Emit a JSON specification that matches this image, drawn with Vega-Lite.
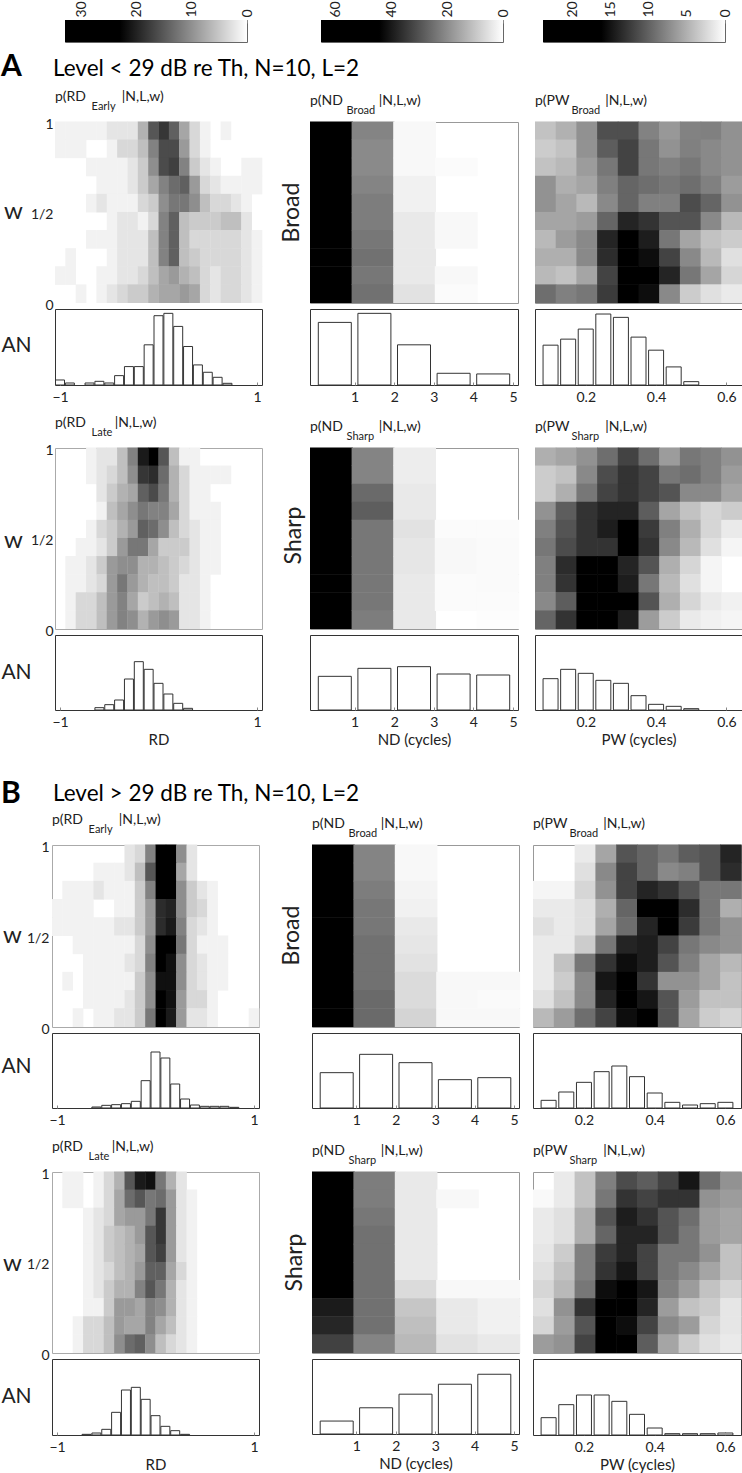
{"$schema":"https://vega.github.io/schema/vega-lite/v6.json","padding":0,"background":"white","spacing":6,"resolve":{"scale":{"color":"independent"}},
"config":{"font":"Lato","view":{"stroke":null},"title":{"anchor":"start","frame":"group","fontSize":14,"fontWeight":"normal","subtitleFontSize":11,"subtitlePadding":-3,"offset":5,"color":"#222","subtitleColor":"#222"},"axis":{"labelFont":"Lato","titleFont":"Lato","labelColor":"#222","titleColor":"#222","grid":false,"labelFontSize":14,"titleFontWeight":"normal","titleFontSize":15}},
"vconcat":[
{"spacing":0,"bounds":"flush","hconcat":[
{"width":64,"height":1,"mark":"text","data":{"values":[]}},
{"width":182,"height":22,"view":{"stroke":"#666"},"data":{"values":[{"lo":0,"hi":33}]},"mark":{"type":"rect","color":{"gradient":"linear","x1":0,"x2":1,"y1":0,"y2":0,"stops":[{"offset":0,"color":"#000"},{"offset":0.3,"color":"#000"},{"offset":1,"color":"#fff"}]}},"encoding":{"x":{"field":"lo","type":"quantitative","scale":{"domain":[0,33],"reverse":true},"axis":{"orient":"top","title":null,"values":[0,10,20,30],"labelAngle":270,"domain":false,"tickSize":-3,"labelPadding":6}},"x2":{"field":"hi"}}},
{"width":74,"height":1,"mark":"text","data":{"values":[]}},
{"width":182,"height":22,"view":{"stroke":"#666"},"data":{"values":[{"lo":0,"hi":65}]},"mark":{"type":"rect","color":{"gradient":"linear","x1":0,"x2":1,"y1":0,"y2":0,"stops":[{"offset":0,"color":"#000"},{"offset":0.32,"color":"#000"},{"offset":1,"color":"#fff"}]}},"encoding":{"x":{"field":"lo","type":"quantitative","scale":{"domain":[0,65],"reverse":true},"axis":{"orient":"top","title":null,"values":[0,20,40,60],"labelAngle":270,"domain":false,"tickSize":-3,"labelPadding":6}},"x2":{"field":"hi"}}},
{"width":40,"height":1,"mark":"text","data":{"values":[]}},
{"width":182,"height":22,"view":{"stroke":"#666"},"data":{"values":[{"lo":0,"hi":23.8}]},"mark":{"type":"rect","color":{"gradient":"linear","x1":0,"x2":1,"y1":0,"y2":0,"stops":[{"offset":0,"color":"#000"},{"offset":0.32,"color":"#000"},{"offset":1,"color":"#fff"}]}},"encoding":{"x":{"field":"lo","type":"quantitative","scale":{"domain":[0,23.8],"reverse":true},"axis":{"orient":"top","title":null,"values":[0,5,10,15,20],"labelAngle":270,"domain":false,"tickSize":-3,"labelPadding":6}},"x2":{"field":"hi"}}}
]},
{"columns":6,"align":"none","bounds":"flush","spacing":{"row":6,"column":0},"resolve":{"scale":{"color":"independent"}},"concat":[
{"width":54,"height":67,"title":{"text":"A","fontSize":30,"fontWeight":"bold","offset":-33,"color":"#000"},"mark":"text","data":{"values":[]}},
{"width":207,"height":67,"title":{"text":"Level < 29 dB re Th, N=10, L=2","fontSize":22.5,"offset":-31,"dx":-2,"color":"#000"},"mark":"text","data":{"values":[]}},
{"width":48,"height":1,"mark":"text","data":{"values":[]}},{"width":208,"height":67,"mark":"text","data":{"values":[]}},{"width":17,"height":1,"mark":"text","data":{"values":[]}},{"width":207,"height":67,"mark":"text","data":{"values":[]}},
{"width":54,"height":181,"mark":"text","data":{"values":[]}},
{"width":207,"height":181,"title":{"text":"p(RD\u00a0\u00a0\u00a0\u00a0\u00a0\u00a0\u00a0\u00a0\u00a0\u00a0|N,L,w)","subtitle":"\u200b\u00a0\u00a0\u00a0\u00a0\u00a0\u00a0\u00a0\u00a0\u00a0\u00a0\u00a0\u00a0\u00a0Early"},"data":{"values":[{"x":0,"y":9,"v":1},{"x":1,"y":9,"v":1},{"x":2,"y":9,"v":1},{"x":3,"y":9,"v":1},{"x":4,"y":9,"v":1},{"x":5,"y":9,"v":2},{"x":6,"y":9,"v":2},{"x":7,"y":9,"v":2},{"x":8,"y":9,"v":6},{"x":9,"y":9,"v":14},{"x":10,"y":9,"v":17},{"x":11,"y":9,"v":13},{"x":12,"y":9,"v":7},{"x":13,"y":9,"v":3},{"x":14,"y":9,"v":1},{"x":16,"y":9,"v":1},
{"x":0,"y":8,"v":1},{"x":1,"y":8,"v":1},{"x":2,"y":8,"v":1},{"x":5,"y":8,"v":1},{"x":6,"y":8,"v":3},{"x":7,"y":8,"v":3},{"x":8,"y":8,"v":5},{"x":9,"y":8,"v":10},{"x":10,"y":8,"v":15},{"x":11,"y":8,"v":15},{"x":12,"y":8,"v":8},{"x":13,"y":8,"v":3},{"x":14,"y":8,"v":1},
{"x":3,"y":7,"v":1},{"x":4,"y":7,"v":1},{"x":5,"y":7,"v":1},{"x":6,"y":7,"v":1},{"x":7,"y":7,"v":2},{"x":8,"y":7,"v":4},{"x":9,"y":7,"v":9},{"x":10,"y":7,"v":15},{"x":11,"y":7,"v":16},{"x":12,"y":7,"v":10},{"x":13,"y":7,"v":4},{"x":14,"y":7,"v":2},{"x":15,"y":7,"v":1},{"x":18,"y":7,"v":1},{"x":19,"y":7,"v":1},
{"x":4,"y":6,"v":1},{"x":5,"y":6,"v":1},{"x":6,"y":6,"v":1},{"x":7,"y":6,"v":2},{"x":8,"y":6,"v":4},{"x":9,"y":6,"v":7},{"x":10,"y":6,"v":10},{"x":11,"y":6,"v":12},{"x":12,"y":6,"v":13},{"x":13,"y":6,"v":8},{"x":14,"y":6,"v":3},{"x":15,"y":6,"v":2},{"x":16,"y":6,"v":1},{"x":17,"y":6,"v":1},{"x":18,"y":6,"v":1},{"x":19,"y":6,"v":1},
{"x":3,"y":5,"v":1},{"x":4,"y":5,"v":2},{"x":5,"y":5,"v":1},{"x":6,"y":5,"v":1},{"x":7,"y":5,"v":1},{"x":8,"y":5,"v":3},{"x":9,"y":5,"v":4},{"x":10,"y":5,"v":9},{"x":11,"y":5,"v":11},{"x":12,"y":5,"v":11},{"x":13,"y":5,"v":9},{"x":14,"y":5,"v":5},{"x":15,"y":5,"v":3},{"x":16,"y":5,"v":3},{"x":17,"y":5,"v":2},{"x":18,"y":5,"v":1},
{"x":5,"y":4,"v":1},{"x":6,"y":4,"v":2},{"x":7,"y":4,"v":2},{"x":8,"y":4,"v":1},{"x":9,"y":4,"v":3},{"x":10,"y":4,"v":10},{"x":11,"y":4,"v":13},{"x":12,"y":4,"v":5},{"x":13,"y":4,"v":4},{"x":14,"y":4,"v":4},{"x":15,"y":4,"v":4},{"x":16,"y":4,"v":5},{"x":17,"y":4,"v":5},{"x":18,"y":4,"v":2},
{"x":3,"y":3,"v":1},{"x":4,"y":3,"v":1},{"x":5,"y":3,"v":1},{"x":6,"y":3,"v":2},{"x":7,"y":3,"v":2},{"x":8,"y":3,"v":2},{"x":9,"y":3,"v":5},{"x":10,"y":3,"v":10},{"x":11,"y":3,"v":13},{"x":12,"y":3,"v":5},{"x":13,"y":3,"v":3},{"x":14,"y":3,"v":3},{"x":15,"y":3,"v":3},{"x":16,"y":3,"v":3},{"x":17,"y":3,"v":3},{"x":18,"y":3,"v":2},{"x":19,"y":3,"v":1},
{"x":1,"y":2,"v":1},{"x":5,"y":2,"v":1},{"x":6,"y":2,"v":2},{"x":7,"y":2,"v":2},{"x":8,"y":2,"v":2},{"x":9,"y":2,"v":5},{"x":10,"y":2,"v":10},{"x":11,"y":2,"v":13},{"x":12,"y":2,"v":5},{"x":13,"y":2,"v":4},{"x":14,"y":2,"v":3},{"x":15,"y":2,"v":3},{"x":16,"y":2,"v":3},{"x":17,"y":2,"v":3},{"x":18,"y":2,"v":2},{"x":19,"y":2,"v":1},
{"x":0,"y":1,"v":1},{"x":1,"y":1,"v":1},{"x":4,"y":1,"v":1},{"x":5,"y":1,"v":1},{"x":6,"y":1,"v":2},{"x":7,"y":1,"v":2},{"x":8,"y":1,"v":3},{"x":9,"y":1,"v":5},{"x":10,"y":1,"v":7},{"x":11,"y":1,"v":8},{"x":12,"y":1,"v":6},{"x":13,"y":1,"v":5},{"x":14,"y":1,"v":3},{"x":15,"y":1,"v":2},{"x":16,"y":1,"v":3},{"x":17,"y":1,"v":3},{"x":18,"y":1,"v":2},{"x":19,"y":1,"v":1},
{"x":2,"y":0,"v":1},{"x":4,"y":0,"v":1},{"x":5,"y":0,"v":2},{"x":6,"y":0,"v":3},{"x":7,"y":0,"v":4},{"x":8,"y":0,"v":4},{"x":9,"y":0,"v":6},{"x":10,"y":0,"v":7},{"x":11,"y":0,"v":7},{"x":12,"y":0,"v":8},{"x":13,"y":0,"v":7},{"x":14,"y":0,"v":3},{"x":15,"y":0,"v":2},{"x":16,"y":0,"v":3},{"x":17,"y":0,"v":3},{"x":18,"y":0,"v":2},{"x":19,"y":0,"v":1}]},"transform":[{"calculate":"datum.x+1.03","as":"x2"},{"calculate":"datum.y+1.03","as":"y2"}],"mark":"rect","encoding":{"x":{"field":"x","type":"quantitative","scale":{"domain":[0,20]},"axis":null},"x2":{"field":"x2"},"y":{"field":"y","type":"quantitative","scale":{"domain":[0,10]},"axis":{"values":[0,5,10],"labelExpr":"datum.value==0?'0':datum.value==5?'1/2':'1'","labelOffset":2,"labelPadding":2,"ticks":false,"domain":false,"title":"w","titleAngle":0,"titleFontSize":24,"titleX":-42,"titleY":101}},"y2":{"field":"y2"},"color":{"field":"v","type":"quantitative","scale":{"domain":[0,22],"range":["#fff","#000"],"clamp":true},"legend":null}}},
{"width":48,"height":1,"mark":"text","data":{"values":[]}},
{"width":208,"height":181,"view":{"stroke":"#999"},"title":{"text":"p(ND\u00a0\u00a0\u00a0\u00a0\u00a0\u00a0\u00a0\u00a0\u00a0\u00a0|N,L,w)","subtitle":"\u200b\u00a0\u00a0\u00a0\u00a0\u00a0\u00a0\u00a0\u00a0\u00a0\u00a0\u00a0\u00a0\u00a0Broad"},"data":{"values":[{"x":0,"y":9,"v":40},{"x":0,"y":8,"v":40},{"x":0,"y":7,"v":40},{"x":0,"y":6,"v":40},{"x":0,"y":5,"v":40},{"x":0,"y":4,"v":40},{"x":0,"y":3,"v":40},{"x":0,"y":2,"v":40},{"x":0,"y":1,"v":40},{"x":0,"y":0,"v":40},{"x":1,"y":9,"v":18},{"x":1,"y":8,"v":17},{"x":1,"y":7,"v":17},{"x":1,"y":6,"v":18},{"x":1,"y":5,"v":19},{"x":1,"y":4,"v":19},{"x":1,"y":3,"v":20},{"x":1,"y":2,"v":21},{"x":1,"y":1,"v":20},{"x":1,"y":0,"v":21},{"x":2,"y":9,"v":1},{"x":2,"y":8,"v":1},{"x":2,"y":7,"v":1},{"x":2,"y":6,"v":2},{"x":2,"y":5,"v":2},{"x":2,"y":4,"v":3},{"x":2,"y":3,"v":3},{"x":2,"y":2,"v":3},{"x":2,"y":1,"v":3},{"x":2,"y":0,"v":4},{"x":3,"y":7,"v":0.5},{"x":3,"y":4,"v":1},{"x":3,"y":3,"v":1},{"x":3,"y":1,"v":1},{"x":3,"y":0,"v":0.5}]},"transform":[{"calculate":"datum.x+1.03","as":"x2"},{"calculate":"datum.y+1.03","as":"y2"}],"mark":"rect","encoding":{"x":{"field":"x","type":"quantitative","scale":{"domain":[0,5]},"axis":null},"x2":{"field":"x2"},"y":{"field":"y","type":"quantitative","scale":{"domain":[0,10]},"axis":{"title":"Broad","labels":false,"ticks":false,"domain":false,"titleAngle":270,"titleX":-19,"titleY":90,"titleFontSize":23,"titleBaseline":"middle"}},"y2":{"field":"y2"},"color":{"field":"v","type":"quantitative","scale":{"domain":[0,40],"range":["#fff","#000"],"clamp":true},"legend":null}}},
{"width":17,"height":1,"mark":"text","data":{"values":[]}},
{"width":207,"height":181,"view":{"stroke":"#999"},"title":{"text":"p(PW\u00a0\u00a0\u00a0\u00a0\u00a0\u00a0\u00a0\u00a0\u00a0\u00a0|N,L,w)","subtitle":"\u200b\u00a0\u00a0\u00a0\u00a0\u00a0\u00a0\u00a0\u00a0\u00a0\u00a0\u00a0\u00a0\u00a0Broad"},"data":{"values":[{"x":0,"y":9,"v":3},{"x":1,"y":9,"v":3.9},{"x":2,"y":9,"v":5.6},{"x":3,"y":9,"v":9.3},{"x":4,"y":9,"v":9.3},{"x":5,"y":9,"v":6.4},{"x":6,"y":9,"v":5.2},{"x":7,"y":9,"v":6.4},{"x":8,"y":9,"v":6.5},{"x":9,"y":9,"v":5.6},
{"x":0,"y":8,"v":2.5},{"x":1,"y":8,"v":3},{"x":2,"y":8,"v":5.5},{"x":3,"y":8,"v":8.5},{"x":4,"y":8,"v":10},{"x":5,"y":8,"v":7},{"x":6,"y":8,"v":5.5},{"x":7,"y":8,"v":6.5},{"x":8,"y":8,"v":6},{"x":9,"y":8,"v":5.5},
{"x":0,"y":7,"v":3},{"x":1,"y":7,"v":3.5},{"x":2,"y":7,"v":5},{"x":3,"y":7,"v":7},{"x":4,"y":7,"v":10},{"x":5,"y":7,"v":7},{"x":6,"y":7,"v":6.5},{"x":7,"y":7,"v":7},{"x":8,"y":7,"v":6},{"x":9,"y":7,"v":5.5},
{"x":0,"y":6,"v":5.5},{"x":1,"y":6,"v":4},{"x":2,"y":6,"v":4.5},{"x":3,"y":6,"v":6.5},{"x":4,"y":6,"v":8},{"x":5,"y":6,"v":7.5},{"x":6,"y":6,"v":7},{"x":7,"y":6,"v":7.5},{"x":8,"y":6,"v":6.5},{"x":9,"y":6,"v":5},
{"x":0,"y":5,"v":5.5},{"x":1,"y":5,"v":4.5},{"x":2,"y":5,"v":3.5},{"x":3,"y":5,"v":6},{"x":4,"y":5,"v":8},{"x":5,"y":5,"v":6.5},{"x":6,"y":5,"v":6.5},{"x":7,"y":5,"v":9.5},{"x":8,"y":5,"v":8},{"x":9,"y":5,"v":5.5},
{"x":0,"y":4,"v":4.5},{"x":1,"y":4,"v":4.5},{"x":2,"y":4,"v":5},{"x":3,"y":4,"v":8},{"x":4,"y":4,"v":12},{"x":5,"y":4,"v":11},{"x":6,"y":4,"v":9},{"x":7,"y":4,"v":9},{"x":8,"y":4,"v":6},{"x":9,"y":4,"v":3.5},
{"x":0,"y":3,"v":3.5},{"x":1,"y":3,"v":5},{"x":2,"y":3,"v":6},{"x":3,"y":3,"v":12},{"x":4,"y":3,"v":14},{"x":5,"y":3,"v":12.5},{"x":6,"y":3,"v":7},{"x":7,"y":3,"v":4.5},{"x":8,"y":3,"v":3},{"x":9,"y":3,"v":2.5},
{"x":0,"y":2,"v":4},{"x":1,"y":2,"v":4},{"x":2,"y":2,"v":6},{"x":3,"y":2,"v":11.5},{"x":4,"y":2,"v":14},{"x":5,"y":2,"v":13.5},{"x":6,"y":2,"v":10},{"x":7,"y":2,"v":6},{"x":8,"y":2,"v":3.5},{"x":9,"y":2,"v":1.5},
{"x":0,"y":1,"v":3.5},{"x":1,"y":1,"v":3},{"x":2,"y":1,"v":4.5},{"x":3,"y":1,"v":10},{"x":4,"y":1,"v":14},{"x":5,"y":1,"v":14},{"x":6,"y":1,"v":12},{"x":7,"y":1,"v":7},{"x":8,"y":1,"v":4.5},{"x":9,"y":1,"v":2},
{"x":0,"y":0,"v":7.5},{"x":1,"y":0,"v":6.5},{"x":2,"y":0,"v":7},{"x":3,"y":0,"v":10.5},{"x":4,"y":0,"v":14},{"x":5,"y":0,"v":13.5},{"x":6,"y":0,"v":6},{"x":7,"y":0,"v":2.5},{"x":8,"y":0,"v":1.5},{"x":9,"y":0,"v":1}]},"transform":[{"calculate":"datum.x+1.03","as":"x2"},{"calculate":"datum.y+1.03","as":"y2"}],"mark":"rect","encoding":{"x":{"field":"x","type":"quantitative","scale":{"domain":[0,10]},"axis":null},"x2":{"field":"x2"},"y":{"field":"y","type":"quantitative","scale":{"domain":[0,10]},"axis":null},"y2":{"field":"y2"},"color":{"field":"v","type":"quantitative","scale":{"domain":[0,14],"range":["#fff","#000"],"clamp":true},"legend":null}}},
{"width":54,"height":76,"mark":"text","data":{"values":[]}},
{"width":207,"height":76,"view":{"stroke":"#333"},"data":{"values":[{"c":-1,"n":15},{"c":-0.9,"n":6},{"c":-0.7,"n":6},{"c":-0.6,"n":11},{"c":-0.5,"n":6},{"c":-0.4,"n":28},{"c":-0.3,"n":55},{"c":-0.2,"n":55},{"c":-0.1,"n":120},{"c":0,"n":207},{"c":0.1,"n":214},{"c":0.2,"n":175},{"c":0.3,"n":115},{"c":0.4,"n":60},{"c":0.5,"n":38},{"c":0.6,"n":23},{"c":0.7,"n":5}]},"mark":{"type":"bar","size":9,"fill":"#fff","stroke":"#333","clip":true},"encoding":{"x":{"field":"c","type":"quantitative","scale":{"domain":[-1,1]},"axis":{"values":[-1,0,1],"format":"d","title":null,"domain":false,"tickSize":-3,"labelPadding":8,"labelFlush":false}},"y":{"field":"n","type":"quantitative","scale":{"domain":[0,227]},"axis":{"title":"AN","labels":false,"ticks":false,"domain":false,"titleAngle":0,"titleFontSize":21,"titleX":-39,"titleY":46}}}},
{"width":48,"height":1,"mark":"text","data":{"values":[]}},
{"width":208,"height":76,"view":{"stroke":"#333"},"data":{"values":[{"c":0.5,"n":187},{"c":1.5,"n":214},{"c":2.5,"n":120},{"c":3.5,"n":35},{"c":4.5,"n":33}]},"mark":{"type":"bar","size":33,"fill":"#fff","stroke":"#333"},"encoding":{"x":{"field":"c","type":"quantitative","scale":{"domain":[0,5]},"axis":{"values":[1,2,3,4,5],"format":"d","title":null,"domain":false,"tickSize":-3,"labelPadding":8,"labelFlush":false}},"y":{"field":"n","type":"quantitative","scale":{"domain":[0,227]},"axis":null}}},
{"width":17,"height":1,"mark":"text","data":{"values":[]}},
{"width":207,"height":76,"view":{"stroke":"#333"},"data":{"values":[{"c":0.1,"n":119},{"c":0.15,"n":137},{"c":0.2,"n":167},{"c":0.25,"n":212},{"c":0.3,"n":202},{"c":0.35,"n":143},{"c":0.4,"n":104},{"c":0.45,"n":54},{"c":0.5,"n":10}]},"mark":{"type":"bar","size":15,"fill":"#fff","stroke":"#333"},"encoding":{"x":{"field":"c","type":"quantitative","scale":{"domain":[0.07,0.63]},"axis":{"values":[0.2,0.4,0.6],"format":".1f","title":null,"domain":false,"tickSize":-3,"labelPadding":8,"labelFlush":false}},"y":{"field":"n","type":"quantitative","scale":{"domain":[0,227]},"axis":null}}},
{"width":54,"height":51,"mark":"text","data":{"values":[]}},{"width":207,"height":51,"mark":"text","data":{"values":[]}},{"width":48,"height":1,"mark":"text","data":{"values":[]}},{"width":208,"height":51,"mark":"text","data":{"values":[]}},{"width":17,"height":1,"mark":"text","data":{"values":[]}},{"width":207,"height":51,"mark":"text","data":{"values":[]}},
{"width":54,"height":181,"mark":"text","data":{"values":[]}},
{"width":207,"height":181,"view":{"stroke":"#aaa"},"title":{"text":"p(RD\u00a0\u00a0\u00a0\u00a0\u00a0\u00a0\u00a0\u00a0|N,L,w)","subtitle":"\u200b\u00a0\u00a0\u00a0\u00a0\u00a0\u00a0\u00a0\u00a0\u00a0\u00a0\u00a0\u00a0\u00a0Late"},"data":{"values":[{"x":3,"y":9,"v":1},{"x":4,"y":9,"v":2},{"x":5,"y":9,"v":2},{"x":6,"y":9,"v":5},{"x":7,"y":9,"v":10},{"x":8,"y":9,"v":20},{"x":9,"y":9,"v":22},{"x":10,"y":9,"v":14},{"x":11,"y":9,"v":5},{"x":12,"y":9,"v":1},{"x":13,"y":9,"v":1},
{"x":3,"y":8,"v":1},{"x":4,"y":8,"v":2},{"x":5,"y":8,"v":3},{"x":6,"y":8,"v":5},{"x":7,"y":8,"v":9},{"x":8,"y":8,"v":17},{"x":9,"y":8,"v":18},{"x":10,"y":8,"v":12},{"x":11,"y":8,"v":6},{"x":12,"y":8,"v":3},{"x":13,"y":8,"v":1},{"x":14,"y":8,"v":1},{"x":15,"y":8,"v":1},{"x":16,"y":8,"v":1},
{"x":4,"y":7,"v":2},{"x":5,"y":7,"v":4},{"x":6,"y":7,"v":6},{"x":7,"y":7,"v":7},{"x":8,"y":7,"v":13},{"x":9,"y":7,"v":15},{"x":10,"y":7,"v":11},{"x":11,"y":7,"v":6},{"x":12,"y":7,"v":3},{"x":13,"y":7,"v":1},{"x":14,"y":7,"v":1},
{"x":4,"y":6,"v":1},{"x":5,"y":6,"v":5},{"x":6,"y":6,"v":7},{"x":7,"y":6,"v":9},{"x":8,"y":6,"v":11},{"x":9,"y":6,"v":10},{"x":10,"y":6,"v":10},{"x":11,"y":6,"v":7},{"x":12,"y":6,"v":3},{"x":13,"y":6,"v":1},{"x":14,"y":6,"v":1},{"x":15,"y":6,"v":1},
{"x":3,"y":5,"v":1},{"x":4,"y":5,"v":3},{"x":5,"y":5,"v":4},{"x":6,"y":5,"v":6},{"x":7,"y":5,"v":8},{"x":8,"y":5,"v":13},{"x":9,"y":5,"v":12},{"x":10,"y":5,"v":9},{"x":11,"y":5,"v":5},{"x":12,"y":5,"v":3},{"x":13,"y":5,"v":2},{"x":14,"y":5,"v":1},{"x":15,"y":5,"v":1},
{"x":2,"y":4,"v":1},{"x":3,"y":4,"v":1},{"x":4,"y":4,"v":2},{"x":5,"y":4,"v":4},{"x":6,"y":4,"v":8},{"x":7,"y":4,"v":11},{"x":8,"y":4,"v":11},{"x":9,"y":4,"v":7},{"x":10,"y":4,"v":4},{"x":11,"y":4,"v":4},{"x":12,"y":4,"v":4},{"x":13,"y":4,"v":2},{"x":14,"y":4,"v":1},{"x":15,"y":4,"v":1},
{"x":1,"y":3,"v":1},{"x":2,"y":3,"v":1},{"x":3,"y":3,"v":2},{"x":4,"y":3,"v":4},{"x":5,"y":3,"v":8},{"x":6,"y":3,"v":9},{"x":7,"y":3,"v":9},{"x":8,"y":3,"v":6},{"x":9,"y":3,"v":6},{"x":10,"y":3,"v":5},{"x":11,"y":3,"v":4},{"x":12,"y":3,"v":3},{"x":13,"y":3,"v":2},{"x":14,"y":3,"v":1},{"x":15,"y":3,"v":1},
{"x":1,"y":2,"v":1},{"x":2,"y":2,"v":1},{"x":3,"y":2,"v":2},{"x":4,"y":2,"v":3},{"x":5,"y":2,"v":8},{"x":6,"y":2,"v":11},{"x":7,"y":2,"v":8},{"x":8,"y":2,"v":6},{"x":9,"y":2,"v":5},{"x":10,"y":2,"v":5},{"x":11,"y":2,"v":4},{"x":12,"y":2,"v":2},{"x":13,"y":2,"v":2},{"x":14,"y":2,"v":1},
{"x":1,"y":1,"v":1},{"x":2,"y":1,"v":3},{"x":3,"y":1,"v":3},{"x":4,"y":1,"v":5},{"x":5,"y":1,"v":8},{"x":6,"y":1,"v":10},{"x":7,"y":1,"v":7},{"x":8,"y":1,"v":4},{"x":9,"y":1,"v":5},{"x":10,"y":1,"v":6},{"x":11,"y":1,"v":5},{"x":12,"y":1,"v":2},{"x":13,"y":1,"v":2},{"x":14,"y":1,"v":1},
{"x":1,"y":0,"v":1},{"x":2,"y":0,"v":3},{"x":3,"y":0,"v":3},{"x":4,"y":0,"v":5},{"x":5,"y":0,"v":8},{"x":6,"y":0,"v":10},{"x":7,"y":0,"v":9},{"x":8,"y":0,"v":6},{"x":9,"y":0,"v":8},{"x":10,"y":0,"v":9},{"x":11,"y":0,"v":8},{"x":12,"y":0,"v":2},{"x":13,"y":0,"v":2},{"x":14,"y":0,"v":1}]},"transform":[{"calculate":"datum.x+1.03","as":"x2"},{"calculate":"datum.y+1.03","as":"y2"}],"mark":"rect","encoding":{"x":{"field":"x","type":"quantitative","scale":{"domain":[0,20]},"axis":null},"x2":{"field":"x2"},"y":{"field":"y","type":"quantitative","scale":{"domain":[0,10]},"axis":{"values":[0,5,10],"labelExpr":"datum.value==0?'0':datum.value==5?'1/2':'1'","labelOffset":2,"labelPadding":2,"ticks":false,"domain":false,"title":"w","titleAngle":0,"titleFontSize":24,"titleX":-42,"titleY":104}},"y2":{"field":"y2"},"color":{"field":"v","type":"quantitative","scale":{"domain":[0,22],"range":["#fff","#000"],"clamp":true},"legend":null}}},
{"width":48,"height":1,"mark":"text","data":{"values":[]}},
{"width":208,"height":181,"view":{"stroke":"#999"},"title":{"text":"p(ND\u00a0\u00a0\u00a0\u00a0\u00a0\u00a0\u00a0\u00a0\u00a0\u00a0|N,L,w)","subtitle":"\u200b\u00a0\u00a0\u00a0\u00a0\u00a0\u00a0\u00a0\u00a0\u00a0\u00a0\u00a0\u00a0\u00a0Sharp"},"data":{"values":[{"x":0,"y":9,"v":40},{"x":0,"y":8,"v":40},{"x":0,"y":7,"v":40},{"x":0,"y":6,"v":40},{"x":0,"y":5,"v":40},{"x":0,"y":4,"v":40},{"x":0,"y":3,"v":40},{"x":0,"y":2,"v":40},{"x":0,"y":1,"v":40},{"x":0,"y":0,"v":40},{"x":1,"y":9,"v":18},{"x":1,"y":8,"v":18},{"x":1,"y":7,"v":22},{"x":1,"y":6,"v":24},{"x":1,"y":5,"v":20},{"x":1,"y":4,"v":20},{"x":1,"y":3,"v":20},{"x":1,"y":2,"v":20},{"x":1,"y":1,"v":20},{"x":1,"y":0,"v":19},{"x":2,"y":9,"v":2.5},{"x":2,"y":8,"v":2.5},{"x":2,"y":7,"v":3},{"x":2,"y":6,"v":3},{"x":2,"y":5,"v":4},{"x":2,"y":4,"v":3.5},{"x":2,"y":3,"v":3.5},{"x":2,"y":2,"v":3},{"x":2,"y":1,"v":3},{"x":2,"y":0,"v":3},{"x":3,"y":5,"v":0.5},{"x":3,"y":4,"v":1},{"x":3,"y":3,"v":1},{"x":3,"y":2,"v":0.5},{"x":3,"y":1,"v":0.5},{"x":4,"y":5,"v":0.5},{"x":4,"y":4,"v":0.7},{"x":4,"y":3,"v":0.7},{"x":4,"y":2,"v":0.7},{"x":4,"y":1,"v":0.5},{"x":4,"y":0,"v":0.3}]},"transform":[{"calculate":"datum.x+1.03","as":"x2"},{"calculate":"datum.y+1.03","as":"y2"}],"mark":"rect","encoding":{"x":{"field":"x","type":"quantitative","scale":{"domain":[0,5]},"axis":null},"x2":{"field":"x2"},"y":{"field":"y","type":"quantitative","scale":{"domain":[0,10]},"axis":{"title":"Sharp","labels":false,"ticks":false,"domain":false,"titleAngle":270,"titleX":-17,"titleY":87,"titleFontSize":23,"titleBaseline":"middle"}},"y2":{"field":"y2"},"color":{"field":"v","type":"quantitative","scale":{"domain":[0,40],"range":["#fff","#000"],"clamp":true},"legend":null}}},
{"width":17,"height":1,"mark":"text","data":{"values":[]}},
{"width":207,"height":181,"view":{"stroke":"#999"},"title":{"text":"p(PW\u00a0\u00a0\u00a0\u00a0\u00a0\u00a0\u00a0\u00a0\u00a0\u00a0|N,L,w)","subtitle":"\u200b\u00a0\u00a0\u00a0\u00a0\u00a0\u00a0\u00a0\u00a0\u00a0\u00a0\u00a0\u00a0\u00a0Sharp"},"data":{"values":[{"x":0,"y":9,"v":4},{"x":1,"y":9,"v":4.5},{"x":2,"y":9,"v":5.5},{"x":3,"y":9,"v":7.5},{"x":4,"y":9,"v":10},{"x":5,"y":9,"v":7.5},{"x":6,"y":9,"v":5},{"x":7,"y":9,"v":7},{"x":8,"y":9,"v":6.5},{"x":9,"y":9,"v":5.5},
{"x":0,"y":8,"v":2.5},{"x":1,"y":8,"v":3},{"x":2,"y":8,"v":6},{"x":3,"y":8,"v":9.5},{"x":4,"y":8,"v":11},{"x":5,"y":8,"v":10},{"x":6,"y":8,"v":7},{"x":7,"y":8,"v":7.5},{"x":8,"y":8,"v":6.5},{"x":9,"y":8,"v":5},
{"x":0,"y":7,"v":2.5},{"x":1,"y":7,"v":4},{"x":2,"y":7,"v":7},{"x":3,"y":7,"v":10},{"x":4,"y":7,"v":11},{"x":5,"y":7,"v":10},{"x":6,"y":7,"v":9},{"x":7,"y":7,"v":6},{"x":8,"y":7,"v":6},{"x":9,"y":7,"v":4.5},
{"x":0,"y":6,"v":5.5},{"x":1,"y":6,"v":8.5},{"x":2,"y":6,"v":11},{"x":3,"y":6,"v":12},{"x":4,"y":6,"v":12},{"x":5,"y":6,"v":8.5},{"x":6,"y":6,"v":4.5},{"x":7,"y":6,"v":3},{"x":8,"y":6,"v":2},{"x":9,"y":6,"v":2.5},
{"x":0,"y":5,"v":6.5},{"x":1,"y":5,"v":9},{"x":2,"y":5,"v":11},{"x":3,"y":5,"v":12.5},{"x":4,"y":5,"v":14},{"x":5,"y":5,"v":10.5},{"x":6,"y":5,"v":6.5},{"x":7,"y":5,"v":4},{"x":8,"y":5,"v":2},{"x":9,"y":5,"v":1},
{"x":0,"y":4,"v":7},{"x":1,"y":4,"v":9.5},{"x":2,"y":4,"v":11},{"x":3,"y":4,"v":11},{"x":4,"y":4,"v":14},{"x":5,"y":4,"v":11},{"x":6,"y":4,"v":6},{"x":7,"y":4,"v":3.5},{"x":8,"y":4,"v":1.5},{"x":9,"y":4,"v":0.5},
{"x":0,"y":3,"v":6.5},{"x":1,"y":3,"v":11.5},{"x":2,"y":3,"v":14},{"x":3,"y":3,"v":14},{"x":4,"y":3,"v":12},{"x":5,"y":3,"v":9},{"x":6,"y":3,"v":4},{"x":7,"y":3,"v":2},{"x":8,"y":3,"v":0.5},
{"x":0,"y":2,"v":6.5},{"x":1,"y":2,"v":11},{"x":2,"y":2,"v":14},{"x":3,"y":2,"v":14},{"x":4,"y":2,"v":12.5},{"x":5,"y":2,"v":7},{"x":6,"y":2,"v":3.5},{"x":7,"y":2,"v":1.5},{"x":8,"y":2,"v":0.5},
{"x":0,"y":1,"v":6},{"x":1,"y":1,"v":8.5},{"x":2,"y":1,"v":14},{"x":3,"y":1,"v":14},{"x":4,"y":1,"v":14},{"x":5,"y":1,"v":9},{"x":6,"y":1,"v":4},{"x":7,"y":1,"v":2},{"x":8,"y":1,"v":1},{"x":9,"y":1,"v":0.7},
{"x":0,"y":0,"v":8},{"x":1,"y":0,"v":11},{"x":2,"y":0,"v":14},{"x":3,"y":0,"v":14},{"x":4,"y":0,"v":12.5},{"x":5,"y":0,"v":5},{"x":6,"y":0,"v":2.5},{"x":7,"y":0,"v":1},{"x":8,"y":0,"v":0.7},{"x":9,"y":0,"v":0.5}]},"transform":[{"calculate":"datum.x+1.03","as":"x2"},{"calculate":"datum.y+1.03","as":"y2"}],"mark":"rect","encoding":{"x":{"field":"x","type":"quantitative","scale":{"domain":[0,10]},"axis":null},"x2":{"field":"x2"},"y":{"field":"y","type":"quantitative","scale":{"domain":[0,10]},"axis":null},"y2":{"field":"y2"},"color":{"field":"v","type":"quantitative","scale":{"domain":[0,14],"range":["#fff","#000"],"clamp":true},"legend":null}}},
{"width":54,"height":75,"mark":"text","data":{"values":[]}},
{"width":207,"height":75,"view":{"stroke":"#333"},"data":{"values":[{"c":-0.6,"n":7},{"c":-0.5,"n":16},{"c":-0.4,"n":30},{"c":-0.3,"n":93},{"c":-0.2,"n":145},{"c":-0.1,"n":122},{"c":0,"n":80},{"c":0.1,"n":48},{"c":0.2,"n":20},{"c":0.3,"n":5}]},"mark":{"type":"bar","size":9,"fill":"#fff","stroke":"#333","clip":true},"encoding":{"x":{"field":"c","type":"quantitative","scale":{"domain":[-1,1]},"axis":{"values":[-1,0,1],"format":"d","title":"RD","titlePadding":3,"domain":false,"tickSize":-3,"labelPadding":8,"labelFlush":false}},"y":{"field":"n","type":"quantitative","scale":{"domain":[0,225]},"axis":{"title":"AN","labels":false,"ticks":false,"domain":false,"titleAngle":0,"titleFontSize":21,"titleX":-39,"titleY":47}}}},
{"width":48,"height":1,"mark":"text","data":{"values":[]}},
{"width":208,"height":75,"view":{"stroke":"#333"},"data":{"values":[{"c":0.5,"n":101},{"c":1.5,"n":125},{"c":2.5,"n":130},{"c":3.5,"n":108},{"c":4.5,"n":105}]},"mark":{"type":"bar","size":33,"fill":"#fff","stroke":"#333"},"encoding":{"x":{"field":"c","type":"quantitative","scale":{"domain":[0,5]},"axis":{"values":[1,2,3,4,5],"format":"d","title":"ND (cycles)","titlePadding":3,"domain":false,"tickSize":-3,"labelPadding":8,"labelFlush":false}},"y":{"field":"n","type":"quantitative","scale":{"domain":[0,225]},"axis":null}}},
{"width":17,"height":1,"mark":"text","data":{"values":[]}},
{"width":207,"height":75,"view":{"stroke":"#333"},"data":{"values":[{"c":0.1,"n":94},{"c":0.15,"n":122},{"c":0.2,"n":110},{"c":0.25,"n":89},{"c":0.3,"n":80},{"c":0.35,"n":43},{"c":0.4,"n":17},{"c":0.45,"n":11},{"c":0.5,"n":4}]},"mark":{"type":"bar","size":15,"fill":"#fff","stroke":"#333"},"encoding":{"x":{"field":"c","type":"quantitative","scale":{"domain":[0.07,0.63]},"axis":{"values":[0.2,0.4,0.6],"format":".1f","title":"PW (cycles)","titlePadding":3,"domain":false,"tickSize":-3,"labelPadding":8,"labelFlush":false}},"y":{"field":"n","type":"quantitative","scale":{"domain":[0,225]},"axis":null}}}
]},
{"columns":6,"align":"none","bounds":"flush","spacing":{"row":6,"column":0},"resolve":{"scale":{"color":"independent"}},"concat":[
{"width":51,"height":85,"title":{"text":"B","fontSize":30,"fontWeight":"bold","offset":-55,"color":"#000"},"mark":"text","data":{"values":[]}},
{"width":207,"height":85,"title":{"text":"Level > 29 dB re Th, N=10, L=2","fontSize":22.5,"offset":-51,"dx":1,"color":"#000"},"mark":"text","data":{"values":[]}},
{"width":53,"height":1,"mark":"text","data":{"values":[]}},{"width":207,"height":85,"mark":"text","data":{"values":[]}},{"width":14,"height":1,"mark":"text","data":{"values":[]}},{"width":208,"height":85,"mark":"text","data":{"values":[]}},
{"width":51,"height":182,"mark":"text","data":{"values":[]}},
{"width":207,"height":182,"view":{"stroke":"#aaa"},"title":{"text":"p(RD\u00a0\u00a0\u00a0\u00a0\u00a0\u00a0\u00a0\u00a0\u00a0\u00a0|N,L,w)","subtitle":"\u200b\u00a0\u00a0\u00a0\u00a0\u00a0\u00a0\u00a0\u00a0\u00a0\u00a0\u00a0\u00a0\u00a0Early"},"data":{"values":[{"x":7,"y":9,"v":2},{"x":8,"y":9,"v":3},{"x":9,"y":9,"v":10},{"x":10,"y":9,"v":22},{"x":11,"y":9,"v":22},{"x":12,"y":9,"v":9},{"x":13,"y":9,"v":2},
{"x":4,"y":8,"v":1},{"x":5,"y":8,"v":1},{"x":6,"y":8,"v":1},{"x":7,"y":8,"v":2},{"x":8,"y":8,"v":5},{"x":9,"y":8,"v":14},{"x":10,"y":8,"v":22},{"x":11,"y":8,"v":22},{"x":12,"y":8,"v":7},{"x":13,"y":8,"v":2},
{"x":1,"y":7,"v":1},{"x":2,"y":7,"v":1},{"x":3,"y":7,"v":1},{"x":4,"y":7,"v":2},{"x":5,"y":7,"v":1},{"x":6,"y":7,"v":1},{"x":7,"y":7,"v":1},{"x":8,"y":7,"v":4},{"x":9,"y":7,"v":10},{"x":10,"y":7,"v":22},{"x":11,"y":7,"v":22},{"x":12,"y":7,"v":9},{"x":13,"y":7,"v":4},{"x":14,"y":7,"v":2},{"x":15,"y":7,"v":1},
{"x":0,"y":6,"v":1},{"x":1,"y":6,"v":1},{"x":2,"y":6,"v":1},{"x":3,"y":6,"v":1},{"x":6,"y":6,"v":1},{"x":7,"y":6,"v":1},{"x":8,"y":6,"v":4},{"x":9,"y":6,"v":8},{"x":10,"y":6,"v":18},{"x":11,"y":6,"v":19},{"x":12,"y":6,"v":9},{"x":13,"y":6,"v":4},{"x":14,"y":6,"v":3},{"x":15,"y":6,"v":1},
{"x":0,"y":5,"v":1},{"x":1,"y":5,"v":1},{"x":2,"y":5,"v":1},{"x":3,"y":5,"v":1},{"x":4,"y":5,"v":1},{"x":5,"y":5,"v":1},{"x":6,"y":5,"v":2},{"x":7,"y":5,"v":2},{"x":8,"y":5,"v":4},{"x":9,"y":5,"v":8},{"x":10,"y":5,"v":18},{"x":11,"y":5,"v":20},{"x":12,"y":5,"v":10},{"x":13,"y":5,"v":3},{"x":14,"y":5,"v":2},{"x":15,"y":5,"v":1},
{"x":2,"y":4,"v":1},{"x":3,"y":4,"v":1},{"x":4,"y":4,"v":1},{"x":5,"y":4,"v":1},{"x":6,"y":4,"v":1},{"x":7,"y":4,"v":1},{"x":8,"y":4,"v":3},{"x":9,"y":4,"v":9},{"x":10,"y":4,"v":22},{"x":11,"y":4,"v":22},{"x":12,"y":4,"v":11},{"x":13,"y":4,"v":3},{"x":14,"y":4,"v":1},{"x":15,"y":4,"v":1},{"x":16,"y":4,"v":1},
{"x":3,"y":3,"v":1},{"x":4,"y":3,"v":1},{"x":5,"y":3,"v":1},{"x":6,"y":3,"v":1},{"x":7,"y":3,"v":2},{"x":8,"y":3,"v":3},{"x":9,"y":3,"v":10},{"x":10,"y":3,"v":22},{"x":11,"y":3,"v":21},{"x":12,"y":3,"v":9},{"x":13,"y":3,"v":3},{"x":14,"y":3,"v":2},{"x":15,"y":3,"v":1},{"x":16,"y":3,"v":1},
{"x":1,"y":2,"v":1},{"x":3,"y":2,"v":1},{"x":4,"y":2,"v":1},{"x":5,"y":2,"v":1},{"x":6,"y":2,"v":1},{"x":7,"y":2,"v":1},{"x":8,"y":2,"v":4},{"x":9,"y":2,"v":9},{"x":10,"y":2,"v":21},{"x":11,"y":2,"v":21},{"x":12,"y":2,"v":9},{"x":13,"y":2,"v":3},{"x":14,"y":2,"v":2},{"x":15,"y":2,"v":1},{"x":16,"y":2,"v":1},
{"x":3,"y":1,"v":1},{"x":4,"y":1,"v":1},{"x":5,"y":1,"v":1},{"x":6,"y":1,"v":1},{"x":7,"y":1,"v":2},{"x":8,"y":1,"v":4},{"x":9,"y":1,"v":9},{"x":10,"y":1,"v":22},{"x":11,"y":1,"v":21},{"x":12,"y":1,"v":8},{"x":13,"y":1,"v":3},{"x":14,"y":1,"v":3},{"x":15,"y":1,"v":1},
{"x":2,"y":0,"v":1},{"x":4,"y":0,"v":1},{"x":5,"y":0,"v":1},{"x":6,"y":0,"v":2},{"x":7,"y":0,"v":2},{"x":8,"y":0,"v":4},{"x":9,"y":0,"v":11},{"x":10,"y":0,"v":22},{"x":11,"y":0,"v":20},{"x":12,"y":0,"v":8},{"x":13,"y":0,"v":2},{"x":14,"y":0,"v":2},{"x":15,"y":0,"v":1},{"x":19,"y":0,"v":1}]},"transform":[{"calculate":"datum.x+1.03","as":"x2"},{"calculate":"datum.y+1.03","as":"y2"}],"mark":"rect","encoding":{"x":{"field":"x","type":"quantitative","scale":{"domain":[0,20]},"axis":null},"x2":{"field":"x2"},"y":{"field":"y","type":"quantitative","scale":{"domain":[0,10]},"axis":{"values":[0,5,10],"labelExpr":"datum.value==0?'0':datum.value==5?'1/2':'1'","labelOffset":2,"labelPadding":3,"ticks":false,"domain":false,"title":"w","titleAngle":0,"titleFontSize":24,"titleX":-40,"titleY":102}},"y2":{"field":"y2"},"color":{"field":"v","type":"quantitative","scale":{"domain":[0,22],"range":["#fff","#000"],"clamp":true},"legend":null}}},
{"width":53,"height":1,"mark":"text","data":{"values":[]}},
{"width":207,"height":182,"view":{"stroke":"#999"},"title":{"text":"p(ND\u00a0\u00a0\u00a0\u00a0\u00a0\u00a0\u00a0\u00a0\u00a0\u00a0|N,L,w)","subtitle":"\u200b\u00a0\u00a0\u00a0\u00a0\u00a0\u00a0\u00a0\u00a0\u00a0\u00a0\u00a0\u00a0\u00a0Broad"},"data":{"values":[{"x":0,"y":9,"v":40},{"x":0,"y":8,"v":40},{"x":0,"y":7,"v":40},{"x":0,"y":6,"v":40},{"x":0,"y":5,"v":40},{"x":0,"y":4,"v":40},{"x":0,"y":3,"v":40},{"x":0,"y":2,"v":40},{"x":0,"y":1,"v":40},{"x":0,"y":0,"v":40},{"x":1,"y":9,"v":18},{"x":1,"y":8,"v":18},{"x":1,"y":7,"v":19},{"x":1,"y":6,"v":20},{"x":1,"y":5,"v":20},{"x":1,"y":4,"v":21},{"x":1,"y":3,"v":21},{"x":1,"y":2,"v":21},{"x":1,"y":1,"v":22},{"x":1,"y":0,"v":22},{"x":2,"y":9,"v":1},{"x":2,"y":8,"v":1},{"x":2,"y":7,"v":1.5},{"x":2,"y":6,"v":2},{"x":2,"y":5,"v":3},{"x":2,"y":4,"v":3.5},{"x":2,"y":3,"v":4},{"x":2,"y":2,"v":5},{"x":2,"y":1,"v":5},{"x":2,"y":0,"v":6},{"x":3,"y":2,"v":1},{"x":3,"y":1,"v":1},{"x":3,"y":0,"v":1},{"x":4,"y":2,"v":1},{"x":4,"y":1,"v":0.7},{"x":4,"y":0,"v":1}]},"transform":[{"calculate":"datum.x+1.03","as":"x2"},{"calculate":"datum.y+1.03","as":"y2"}],"mark":"rect","encoding":{"x":{"field":"x","type":"quantitative","scale":{"domain":[0,5]},"axis":null},"x2":{"field":"x2"},"y":{"field":"y","type":"quantitative","scale":{"domain":[0,10]},"axis":{"title":"Broad","labels":false,"ticks":false,"domain":false,"titleAngle":270,"titleX":-21,"titleY":90,"titleFontSize":23,"titleBaseline":"middle"}},"y2":{"field":"y2"},"color":{"field":"v","type":"quantitative","scale":{"domain":[0,40],"range":["#fff","#000"],"clamp":true},"legend":null}}},
{"width":14,"height":1,"mark":"text","data":{"values":[]}},
{"width":208,"height":182,"view":{"stroke":"#999"},"title":{"text":"p(PW\u00a0\u00a0\u00a0\u00a0\u00a0\u00a0\u00a0\u00a0\u00a0\u00a0|N,L,w)","subtitle":"\u200b\u00a0\u00a0\u00a0\u00a0\u00a0\u00a0\u00a0\u00a0\u00a0\u00a0\u00a0\u00a0\u00a0Broad"},"data":{"values":[{"x":2,"y":9,"v":1},{"x":3,"y":9,"v":4.5},{"x":4,"y":9,"v":9},{"x":5,"y":9,"v":8},{"x":6,"y":9,"v":7},{"x":7,"y":9,"v":8.5},{"x":8,"y":9,"v":9},{"x":9,"y":9,"v":12},
{"x":2,"y":8,"v":1.5},{"x":3,"y":8,"v":6},{"x":4,"y":8,"v":10},{"x":5,"y":8,"v":8},{"x":6,"y":8,"v":6},{"x":7,"y":8,"v":6.5},{"x":8,"y":8,"v":9},{"x":9,"y":8,"v":11.5},
{"x":0,"y":7,"v":0.5},{"x":1,"y":7,"v":0.5},{"x":2,"y":7,"v":2},{"x":3,"y":7,"v":5.5},{"x":4,"y":7,"v":10},{"x":5,"y":7,"v":12},{"x":6,"y":7,"v":11},{"x":7,"y":7,"v":9},{"x":8,"y":7,"v":7},{"x":9,"y":7,"v":7},
{"x":0,"y":6,"v":1},{"x":1,"y":6,"v":1},{"x":2,"y":6,"v":1.5},{"x":3,"y":6,"v":4},{"x":4,"y":6,"v":8},{"x":5,"y":6,"v":14},{"x":6,"y":6,"v":14},{"x":7,"y":6,"v":11.5},{"x":8,"y":6,"v":7},{"x":9,"y":6,"v":4},
{"x":0,"y":5,"v":1.5},{"x":1,"y":5,"v":1},{"x":2,"y":5,"v":1.5},{"x":3,"y":5,"v":4.5},{"x":4,"y":5,"v":7.5},{"x":5,"y":5,"v":12},{"x":6,"y":5,"v":14},{"x":7,"y":5,"v":10.5},{"x":8,"y":5,"v":7},{"x":9,"y":5,"v":5.5},
{"x":0,"y":4,"v":1},{"x":1,"y":4,"v":1},{"x":2,"y":4,"v":2.5},{"x":3,"y":4,"v":7},{"x":4,"y":4,"v":12},{"x":5,"y":4,"v":12.5},{"x":6,"y":4,"v":10},{"x":7,"y":4,"v":7},{"x":8,"y":4,"v":6},{"x":9,"y":4,"v":5.5},
{"x":0,"y":3,"v":1},{"x":1,"y":3,"v":3},{"x":2,"y":3,"v":7},{"x":3,"y":3,"v":11},{"x":4,"y":3,"v":13.5},{"x":5,"y":3,"v":12.5},{"x":6,"y":3,"v":9},{"x":7,"y":3,"v":6.5},{"x":8,"y":3,"v":4.5},{"x":9,"y":3,"v":3.5},
{"x":0,"y":2,"v":1},{"x":1,"y":2,"v":2.5},{"x":2,"y":2,"v":6},{"x":3,"y":2,"v":13},{"x":4,"y":2,"v":14},{"x":5,"y":2,"v":11},{"x":6,"y":2,"v":5.5},{"x":7,"y":2,"v":5.5},{"x":8,"y":2,"v":4.5},{"x":9,"y":2,"v":3},
{"x":0,"y":1,"v":1.5},{"x":1,"y":1,"v":3},{"x":2,"y":1,"v":6},{"x":3,"y":1,"v":12},{"x":4,"y":1,"v":14},{"x":5,"y":1,"v":13},{"x":6,"y":1,"v":9},{"x":7,"y":1,"v":5},{"x":8,"y":1,"v":3},{"x":9,"y":1,"v":3},
{"x":0,"y":0,"v":3.5},{"x":1,"y":0,"v":5},{"x":2,"y":0,"v":7.5},{"x":3,"y":0,"v":10},{"x":4,"y":0,"v":13.5},{"x":5,"y":0,"v":14},{"x":6,"y":0,"v":9},{"x":7,"y":0,"v":4.5},{"x":8,"y":0,"v":2.5},{"x":9,"y":0,"v":2}]},"transform":[{"calculate":"datum.x+1.03","as":"x2"},{"calculate":"datum.y+1.03","as":"y2"}],"mark":"rect","encoding":{"x":{"field":"x","type":"quantitative","scale":{"domain":[0,10]},"axis":null},"x2":{"field":"x2"},"y":{"field":"y","type":"quantitative","scale":{"domain":[0,10]},"axis":null},"y2":{"field":"y2"},"color":{"field":"v","type":"quantitative","scale":{"domain":[0,14],"range":["#fff","#000"],"clamp":true},"legend":null}}},
{"width":51,"height":75,"mark":"text","data":{"values":[]}},
{"width":207,"height":75,"view":{"stroke":"#333"},"data":{"values":[{"c":-0.6,"n":3},{"c":-0.5,"n":8},{"c":-0.4,"n":10},{"c":-0.3,"n":13},{"c":-0.2,"n":20},{"c":-0.1,"n":82},{"c":0,"n":168},{"c":0.1,"n":150},{"c":0.2,"n":72},{"c":0.3,"n":27},{"c":0.4,"n":9},{"c":0.5,"n":5},{"c":0.6,"n":5},{"c":0.7,"n":5},{"c":0.8,"n":2}]},"mark":{"type":"bar","size":9,"fill":"#fff","stroke":"#333","clip":true},"encoding":{"x":{"field":"c","type":"quantitative","scale":{"domain":[-1,1]},"axis":{"values":[-1,0,1],"format":"d","title":null,"domain":false,"tickSize":-3,"labelPadding":8,"labelFlush":false}},"y":{"field":"n","type":"quantitative","scale":{"domain":[0,225]},"axis":{"title":"AN","labels":false,"ticks":false,"domain":false,"titleAngle":0,"titleFontSize":21,"titleX":-36,"titleY":43}}}},
{"width":53,"height":1,"mark":"text","data":{"values":[]}},
{"width":207,"height":75,"view":{"stroke":"#333"},"data":{"values":[{"c":0.5,"n":106},{"c":1.5,"n":161},{"c":2.5,"n":136},{"c":3.5,"n":85},{"c":4.5,"n":91}]},"mark":{"type":"bar","size":33,"fill":"#fff","stroke":"#333"},"encoding":{"x":{"field":"c","type":"quantitative","scale":{"domain":[0,5]},"axis":{"values":[1,2,3,4,5],"format":"d","title":null,"domain":false,"tickSize":-3,"labelPadding":8,"labelFlush":false}},"y":{"field":"n","type":"quantitative","scale":{"domain":[0,225]},"axis":null}}},
{"width":14,"height":1,"mark":"text","data":{"values":[]}},
{"width":208,"height":75,"view":{"stroke":"#333"},"data":{"values":[{"c":0.1,"n":23},{"c":0.15,"n":48},{"c":0.2,"n":77},{"c":0.25,"n":109},{"c":0.3,"n":126},{"c":0.35,"n":94},{"c":0.4,"n":45},{"c":0.45,"n":17},{"c":0.5,"n":9},{"c":0.55,"n":13},{"c":0.6,"n":17}]},"mark":{"type":"bar","size":15,"fill":"#fff","stroke":"#333"},"encoding":{"x":{"field":"c","type":"quantitative","scale":{"domain":[0.07,0.63]},"axis":{"values":[0.2,0.4,0.6],"format":".1f","title":null,"domain":false,"tickSize":-3,"labelPadding":8,"labelFlush":false}},"y":{"field":"n","type":"quantitative","scale":{"domain":[0,225]},"axis":null}}},
{"width":51,"height":50,"mark":"text","data":{"values":[]}},{"width":207,"height":50,"mark":"text","data":{"values":[]}},{"width":53,"height":1,"mark":"text","data":{"values":[]}},{"width":207,"height":52,"mark":"text","data":{"values":[]}},{"width":14,"height":1,"mark":"text","data":{"values":[]}},{"width":208,"height":51,"mark":"text","data":{"values":[]}},
{"width":51,"height":181,"mark":"text","data":{"values":[]}},
{"width":207,"height":181,"view":{"stroke":"#aaa"},"title":{"text":"p(RD\u00a0\u00a0\u00a0\u00a0\u00a0\u00a0\u00a0\u00a0|N,L,w)","subtitle":"\u200b\u00a0\u00a0\u00a0\u00a0\u00a0\u00a0\u00a0\u00a0\u00a0\u00a0\u00a0\u00a0\u00a0Late"},"data":{"values":[{"x":1,"y":9,"v":1},{"x":2,"y":9,"v":1},{"x":4,"y":9,"v":1},{"x":5,"y":9,"v":3},{"x":6,"y":9,"v":6},{"x":7,"y":9,"v":14},{"x":8,"y":9,"v":20},{"x":9,"y":9,"v":21},{"x":10,"y":9,"v":11},{"x":11,"y":9,"v":6},{"x":12,"y":9,"v":2},
{"x":1,"y":8,"v":1},{"x":2,"y":8,"v":1},{"x":4,"y":8,"v":1},{"x":5,"y":8,"v":3},{"x":6,"y":8,"v":7},{"x":7,"y":8,"v":12},{"x":8,"y":8,"v":14},{"x":9,"y":8,"v":11},{"x":10,"y":8,"v":12},{"x":11,"y":8,"v":8},{"x":12,"y":8,"v":2},{"x":13,"y":8,"v":1},
{"x":3,"y":7,"v":1},{"x":4,"y":7,"v":2},{"x":5,"y":7,"v":3},{"x":6,"y":7,"v":7},{"x":7,"y":7,"v":8},{"x":8,"y":7,"v":8},{"x":9,"y":7,"v":11},{"x":10,"y":7,"v":17},{"x":11,"y":7,"v":8},{"x":12,"y":7,"v":2},{"x":13,"y":7,"v":1},
{"x":3,"y":6,"v":1},{"x":4,"y":6,"v":2},{"x":5,"y":6,"v":4},{"x":6,"y":6,"v":5},{"x":7,"y":6,"v":6},{"x":8,"y":6,"v":8},{"x":9,"y":6,"v":14},{"x":10,"y":6,"v":17},{"x":11,"y":6,"v":8},{"x":12,"y":6,"v":2},{"x":13,"y":6,"v":1},
{"x":3,"y":5,"v":1},{"x":4,"y":5,"v":2},{"x":5,"y":5,"v":4},{"x":6,"y":5,"v":5},{"x":7,"y":5,"v":6},{"x":8,"y":5,"v":7},{"x":9,"y":5,"v":14},{"x":10,"y":5,"v":16},{"x":11,"y":5,"v":8},{"x":12,"y":5,"v":2},{"x":13,"y":5,"v":1},
{"x":3,"y":4,"v":1},{"x":4,"y":4,"v":2},{"x":5,"y":4,"v":3},{"x":6,"y":4,"v":5},{"x":7,"y":4,"v":6},{"x":8,"y":4,"v":8},{"x":9,"y":4,"v":13},{"x":10,"y":4,"v":13},{"x":11,"y":4,"v":7},{"x":12,"y":4,"v":3},{"x":13,"y":4,"v":1},
{"x":3,"y":3,"v":1},{"x":4,"y":3,"v":2},{"x":5,"y":3,"v":4},{"x":6,"y":3,"v":6},{"x":7,"y":3,"v":6},{"x":8,"y":3,"v":10},{"x":9,"y":3,"v":14},{"x":10,"y":3,"v":11},{"x":11,"y":3,"v":6},{"x":12,"y":3,"v":2},{"x":13,"y":3,"v":1},
{"x":3,"y":2,"v":1},{"x":4,"y":2,"v":1},{"x":5,"y":2,"v":4},{"x":6,"y":2,"v":8},{"x":7,"y":2,"v":8},{"x":8,"y":2,"v":7},{"x":9,"y":2,"v":10},{"x":10,"y":2,"v":9},{"x":11,"y":2,"v":6},{"x":12,"y":2,"v":2},{"x":13,"y":2,"v":1},
{"x":2,"y":1,"v":1},{"x":3,"y":1,"v":3},{"x":4,"y":1,"v":3},{"x":5,"y":1,"v":5},{"x":6,"y":1,"v":8},{"x":7,"y":1,"v":7},{"x":8,"y":1,"v":7},{"x":9,"y":1,"v":10},{"x":10,"y":1,"v":7},{"x":11,"y":1,"v":5},{"x":12,"y":1,"v":2},{"x":13,"y":1,"v":1},
{"x":2,"y":0,"v":1},{"x":3,"y":0,"v":3},{"x":4,"y":0,"v":3},{"x":5,"y":0,"v":5},{"x":6,"y":0,"v":9},{"x":7,"y":0,"v":12},{"x":8,"y":0,"v":13},{"x":9,"y":0,"v":9},{"x":10,"y":0,"v":5},{"x":11,"y":0,"v":3},{"x":12,"y":0,"v":2},{"x":13,"y":0,"v":1}]},"transform":[{"calculate":"datum.x+1.03","as":"x2"},{"calculate":"datum.y+1.03","as":"y2"}],"mark":"rect","encoding":{"x":{"field":"x","type":"quantitative","scale":{"domain":[0,20]},"axis":null},"x2":{"field":"x2"},"y":{"field":"y","type":"quantitative","scale":{"domain":[0,10]},"axis":{"values":[0,5,10],"labelExpr":"datum.value==0?'0':datum.value==5?'1/2':'1'","labelOffset":2,"labelPadding":3,"ticks":false,"domain":false,"title":"w","titleAngle":0,"titleFontSize":24,"titleX":-40,"titleY":103}},"y2":{"field":"y2"},"color":{"field":"v","type":"quantitative","scale":{"domain":[0,22],"range":["#fff","#000"],"clamp":true},"legend":null}}},
{"width":53,"height":1,"mark":"text","data":{"values":[]}},
{"width":207,"height":181,"view":{"stroke":"#999"},"title":{"text":"p(ND\u00a0\u00a0\u00a0\u00a0\u00a0\u00a0\u00a0\u00a0\u00a0\u00a0|N,L,w)","subtitle":"\u200b\u00a0\u00a0\u00a0\u00a0\u00a0\u00a0\u00a0\u00a0\u00a0\u00a0\u00a0\u00a0\u00a0Sharp"},"data":{"values":[{"x":0,"y":9,"v":40},{"x":0,"y":8,"v":40},{"x":0,"y":7,"v":40},{"x":0,"y":6,"v":40},{"x":0,"y":5,"v":40},{"x":0,"y":4,"v":40},{"x":0,"y":3,"v":40},{"x":0,"y":2,"v":36},{"x":0,"y":1,"v":34},{"x":0,"y":0,"v":29},{"x":1,"y":9,"v":19},{"x":1,"y":8,"v":19},{"x":1,"y":7,"v":20},{"x":1,"y":6,"v":21},{"x":1,"y":5,"v":21},{"x":1,"y":4,"v":21},{"x":1,"y":3,"v":21},{"x":1,"y":2,"v":21},{"x":1,"y":1,"v":21},{"x":1,"y":0,"v":18},{"x":2,"y":9,"v":3},{"x":2,"y":8,"v":3},{"x":2,"y":7,"v":3},{"x":2,"y":6,"v":3},{"x":2,"y":5,"v":3},{"x":2,"y":4,"v":3},{"x":2,"y":3,"v":5},{"x":2,"y":2,"v":8},{"x":2,"y":1,"v":9},{"x":2,"y":0,"v":10},{"x":3,"y":8,"v":1},{"x":3,"y":3,"v":1},{"x":3,"y":2,"v":3},{"x":3,"y":1,"v":3},{"x":3,"y":0,"v":4},{"x":4,"y":3,"v":1},{"x":4,"y":2,"v":2},{"x":4,"y":1,"v":2},{"x":4,"y":0,"v":3}]},"transform":[{"calculate":"datum.x+1.03","as":"x2"},{"calculate":"datum.y+1.03","as":"y2"}],"mark":"rect","encoding":{"x":{"field":"x","type":"quantitative","scale":{"domain":[0,5]},"axis":null},"x2":{"field":"x2"},"y":{"field":"y","type":"quantitative","scale":{"domain":[0,10]},"axis":{"title":"Sharp","labels":false,"ticks":false,"domain":false,"titleAngle":270,"titleX":-18,"titleY":90,"titleFontSize":23,"titleBaseline":"middle"}},"y2":{"field":"y2"},"color":{"field":"v","type":"quantitative","scale":{"domain":[0,40],"range":["#fff","#000"],"clamp":true},"legend":null}}},
{"width":14,"height":1,"mark":"text","data":{"values":[]}},
{"width":208,"height":181,"view":{"stroke":"#999"},"title":{"text":"p(PW\u00a0\u00a0\u00a0\u00a0\u00a0\u00a0\u00a0\u00a0\u00a0\u00a0|N,L,w)","subtitle":"\u200b\u00a0\u00a0\u00a0\u00a0\u00a0\u00a0\u00a0\u00a0\u00a0\u00a0\u00a0\u00a0\u00a0Sharp"},"data":{"values":[{"x":1,"y":9,"v":1},{"x":2,"y":9,"v":3},{"x":3,"y":9,"v":6.5},{"x":4,"y":9,"v":9.5},{"x":5,"y":9,"v":8.5},{"x":6,"y":9,"v":10},{"x":7,"y":9,"v":13},{"x":8,"y":9,"v":7.5},{"x":9,"y":9,"v":5.5},
{"x":0,"y":8,"v":0.3},{"x":1,"y":8,"v":1},{"x":2,"y":8,"v":3},{"x":3,"y":8,"v":7},{"x":4,"y":8,"v":11},{"x":5,"y":8,"v":10},{"x":6,"y":8,"v":11},{"x":7,"y":8,"v":11},{"x":8,"y":8,"v":5.5},{"x":9,"y":8,"v":5},
{"x":0,"y":7,"v":1},{"x":1,"y":7,"v":1.5},{"x":2,"y":7,"v":4},{"x":3,"y":7,"v":9},{"x":4,"y":7,"v":12.5},{"x":5,"y":7,"v":11},{"x":6,"y":7,"v":9},{"x":7,"y":7,"v":7.5},{"x":8,"y":7,"v":5},{"x":9,"y":7,"v":4.5},
{"x":0,"y":6,"v":1},{"x":1,"y":6,"v":1.5},{"x":2,"y":6,"v":4},{"x":3,"y":6,"v":8},{"x":4,"y":6,"v":12},{"x":5,"y":6,"v":12},{"x":6,"y":6,"v":9},{"x":7,"y":6,"v":7},{"x":8,"y":6,"v":5},{"x":9,"y":6,"v":4.5},
{"x":0,"y":5,"v":1.2},{"x":1,"y":5,"v":2.5},{"x":2,"y":5,"v":6.5},{"x":3,"y":5,"v":10.5},{"x":4,"y":5,"v":12},{"x":5,"y":5,"v":10},{"x":6,"y":5,"v":7},{"x":7,"y":5,"v":7},{"x":8,"y":5,"v":5.5},{"x":9,"y":5,"v":3},
{"x":0,"y":4,"v":1.5},{"x":1,"y":4,"v":3},{"x":2,"y":4,"v":6.5},{"x":3,"y":4,"v":11},{"x":4,"y":4,"v":13},{"x":5,"y":4,"v":10},{"x":6,"y":4,"v":7},{"x":7,"y":4,"v":6},{"x":8,"y":4,"v":4.5},{"x":9,"y":4,"v":3},
{"x":0,"y":3,"v":2},{"x":1,"y":3,"v":3.5},{"x":2,"y":3,"v":7},{"x":3,"y":3,"v":13.5},{"x":4,"y":3,"v":14},{"x":5,"y":3,"v":13},{"x":6,"y":3,"v":6.5},{"x":7,"y":3,"v":5},{"x":8,"y":3,"v":3},{"x":9,"y":3,"v":2},
{"x":0,"y":2,"v":1.5},{"x":1,"y":2,"v":5.5},{"x":2,"y":2,"v":11},{"x":3,"y":2,"v":14},{"x":4,"y":2,"v":14},{"x":5,"y":2,"v":12},{"x":6,"y":2,"v":5},{"x":7,"y":2,"v":3},{"x":8,"y":2,"v":2.5},{"x":9,"y":2,"v":1.2},
{"x":0,"y":1,"v":2},{"x":1,"y":1,"v":5},{"x":2,"y":1,"v":9},{"x":3,"y":1,"v":14},{"x":4,"y":1,"v":13.5},{"x":5,"y":1,"v":10},{"x":6,"y":1,"v":6},{"x":7,"y":1,"v":5},{"x":8,"y":1,"v":2},{"x":9,"y":1,"v":1.2},
{"x":0,"y":0,"v":5},{"x":1,"y":0,"v":5.5},{"x":2,"y":0,"v":10},{"x":3,"y":0,"v":14},{"x":4,"y":0,"v":14},{"x":5,"y":0,"v":8.5},{"x":6,"y":0,"v":4.5},{"x":7,"y":0,"v":2.5},{"x":8,"y":0,"v":1.5},{"x":9,"y":0,"v":1}]},"transform":[{"calculate":"datum.x+1.03","as":"x2"},{"calculate":"datum.y+1.03","as":"y2"}],"mark":"rect","encoding":{"x":{"field":"x","type":"quantitative","scale":{"domain":[0,10]},"axis":null},"x2":{"field":"x2"},"y":{"field":"y","type":"quantitative","scale":{"domain":[0,10]},"axis":null},"y2":{"field":"y2"},"color":{"field":"v","type":"quantitative","scale":{"domain":[0,14],"range":["#fff","#000"],"clamp":true},"legend":null}}},
{"width":51,"height":76,"mark":"text","data":{"values":[]}},
{"width":207,"height":76,"view":{"stroke":"#333"},"data":{"values":[{"c":-0.7,"n":2},{"c":-0.6,"n":6},{"c":-0.5,"n":17},{"c":-0.4,"n":68},{"c":-0.3,"n":135},{"c":-0.2,"n":143},{"c":-0.1,"n":107},{"c":0,"n":58},{"c":0.1,"n":26},{"c":0.2,"n":13},{"c":0.3,"n":2}]},"mark":{"type":"bar","size":9,"fill":"#fff","stroke":"#333","clip":true},"encoding":{"x":{"field":"c","type":"quantitative","scale":{"domain":[-1,1]},"axis":{"values":[-1,0,1],"format":"d","title":"RD","titlePadding":3,"domain":false,"tickSize":-3,"labelPadding":8,"labelFlush":false}},"y":{"field":"n","type":"quantitative","scale":{"domain":[0,228]},"axis":{"title":"AN","labels":false,"ticks":false,"domain":false,"titleAngle":0,"titleFontSize":21,"titleX":-36,"titleY":47}}}},
{"width":53,"height":1,"mark":"text","data":{"values":[]}},
{"width":207,"height":75,"view":{"stroke":"#333"},"data":{"values":[{"c":0.5,"n":39},{"c":1.5,"n":79},{"c":2.5,"n":120},{"c":3.5,"n":150},{"c":4.5,"n":180}]},"mark":{"type":"bar","size":33,"fill":"#fff","stroke":"#333"},"encoding":{"x":{"field":"c","type":"quantitative","scale":{"domain":[0,5]},"axis":{"values":[1,2,3,4,5],"format":"d","title":"ND (cycles)","titlePadding":3,"domain":false,"tickSize":-3,"labelPadding":8,"labelFlush":false}},"y":{"field":"n","type":"quantitative","scale":{"domain":[0,226]},"axis":null}}},
{"width":14,"height":1,"mark":"text","data":{"values":[]}},
{"width":208,"height":76,"view":{"stroke":"#333"},"data":{"values":[{"c":0.1,"n":52},{"c":0.15,"n":91},{"c":0.2,"n":120},{"c":0.25,"n":120},{"c":0.3,"n":101},{"c":0.35,"n":62},{"c":0.4,"n":21},{"c":0.45,"n":4},{"c":0.5,"n":4},{"c":0.55,"n":4},{"c":0.6,"n":6}]},"mark":{"type":"bar","size":15,"fill":"#fff","stroke":"#333"},"encoding":{"x":{"field":"c","type":"quantitative","scale":{"domain":[0.07,0.63]},"axis":{"values":[0.2,0.4,0.6],"format":".1f","title":"PW (cycles)","titlePadding":3,"domain":false,"tickSize":-3,"labelPadding":8,"labelFlush":false}},"y":{"field":"n","type":"quantitative","scale":{"domain":[0,228]},"axis":null}}}
]}
]}
